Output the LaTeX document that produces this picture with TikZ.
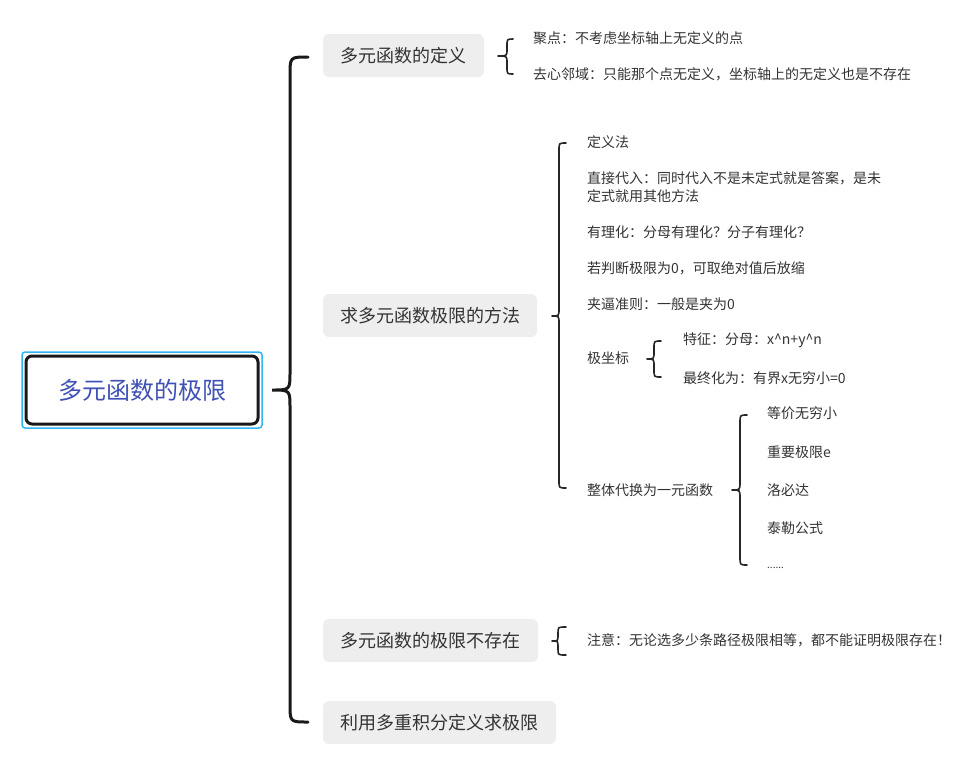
\documentclass[tikz,border=0pt]{standalone}
\usepackage{fontspec}
\setmainfont{Noto Sans CJK SC}
\usetikzlibrary{calc}
\definecolor{rootblue}{HTML}{3F51B5}
\definecolor{selblue}{HTML}{33B5F5}
\definecolor{lvgray}{HTML}{EEEEEE}
\definecolor{txt}{HTML}{333333}
\newcommand\drawbrace[7]{%
  % #1 tip x, #2 line x, #3 end x, #4 ytop, #5 ymid, #6 ybot, #7 radius
  \draw[bracestyle] (#3,#4) .. controls (#2,#4) .. (#2,#4+#7) -- (#2,#5-#7)
    .. controls (#2,#5) .. (#1,#5) .. controls (#2,#5) .. (#2,#5+#7)
    -- (#2,#6-#7) .. controls (#2,#6) .. (#3,#6);}
\begin{document}
\begin{tikzpicture}[x=1pt,y=-1pt,
  bracestyle/.style={line width=1.6pt,black!85,line cap=round,line join=round},
  mainbrace/.style={line width=3pt,black!90,line cap=round},
  lvone/.style={fill=lvgray,rounded corners=6pt,minimum height=43pt,inner sep=0pt,
    text=txt,font=\fontsize{18}{21}\selectfont},
  leaf/.style={anchor=west,inner sep=0pt,text=txt,font=\fontsize{14}{18}\selectfont,align=left}]
\useasboundingbox (0,0) rectangle (961,764);
% root
\draw[selblue,line width=1.5pt,rounded corners=3pt] (22,352) rectangle (262,428);
\node[draw=black!90,line width=3pt,rounded corners=6pt,fill=white,
  minimum width=232pt,minimum height=68pt,inner sep=0pt,text=rootblue,
  font=\fontsize{24}{28}\selectfont] (root) at (142,390) {多元函数的极限};
% main brace
\draw[mainbrace] (308,57) .. controls (290,57) .. (290,75) -- (290,372)
  .. controls (290,390) .. (272,390) .. controls (290,390) .. (290,408)
  -- (290,704) .. controls (290,722) .. (308,722);
% level one
\node[lvone,minimum width=161pt] (def) at (403.5,55.5) {多元函数的定义};
\node[lvone,minimum width=214pt] (meth) at (430,315.5) {求多元函数极限的方法};
\node[lvone,minimum width=215pt] (nex) at (430.5,640.5) {多元函数的极限不存在};
\node[lvone,minimum width=233pt] (integ) at (439.5,722.5) {利用多重积分定义求极限};
% definition leaves
\drawbrace{498}{507}{513}{39}{56}{74}{7}
\node[leaf] (d1) at (533,38) {聚点：不考虑坐标轴上无定义的点};
\node[leaf] (d2) at (533,74) {去心邻域：只能那个点无定义，坐标轴上的无定义也是不存在};
% methods
\drawbrace{552}{559}{566}{143}{316}{488}{7}
\node[leaf] (m1) at (587,142) {定义法};
\node[leaf] (m2) at (587,187) {直接代入：同时代入不是未定式就是答案，是未\\定式就用其他方法};
\node[leaf] (m3) at (587,232) {有理化：分母有理化？分子有理化？};
\node[leaf] (m4) at (587,268) {若判断极限为0，可取绝对值后放缩};
\node[leaf] (m5) at (587,304) {夹逼准则：一般是夹为0};
\node[leaf] (m6) at (587,358) {极坐标};
\node[leaf] (m7) at (587,490) {整体代换为一元函数};
% polar
\drawbrace{647}{654}{661}{341}{359}{377}{7}
\node[leaf] (p1) at (683,340) {特征：分母：x\^{}n+y\^{}n};
\node[leaf] (p2) at (683,378) {最终化为：有界x无穷小=0};
% substitution
\drawbrace{732}{740}{747}{415}{490}{565}{8}
\node[leaf] (w1) at (767,413) {等价无穷小};
\node[leaf] (w2) at (767,452) {重要极限e};
\node[leaf] (w3) at (767,490) {洛必达};
\node[leaf] (w4) at (767,528) {泰勒公式};
\node[leaf,font=\fontsize{10}{12}\selectfont] (w5) at (767,568) {......};
% not exist
\drawbrace{552}{558}{566}{627}{641}{655}{6}
\node[leaf] (n1) at (587,640) {注意：无论选多少条路径极限相等，都不能证明极限存在！};
\end{tikzpicture}
\end{document}
